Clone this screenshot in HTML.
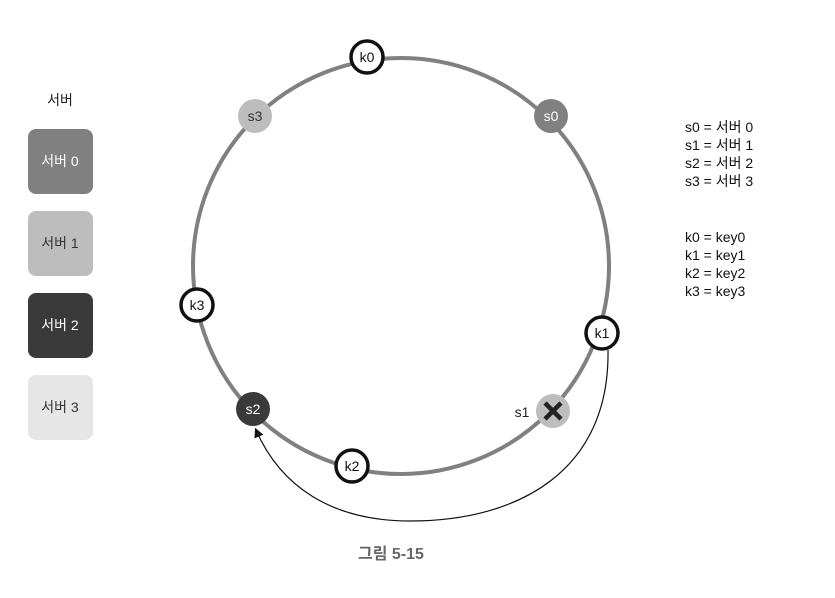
<!DOCTYPE html>
<html><head><meta charset="utf-8"><style>
body{margin:0;background:#fff;}
svg{display:block;font-family:"Liberation Sans","Noto Sans CJK KR",sans-serif;}
</style></head><body>
<svg width="835" height="598" viewBox="0 0 835 598">
<defs><marker id="ah" markerWidth="10" markerHeight="10" refX="6" refY="5" orient="auto"><path d="M0,1 L8,5 L0,9 z" fill="#111"/></marker></defs>
<text x="60" y="105" font-size="14" text-anchor="middle" fill="#222">서버</text>
<g>
<rect x="28" y="129" width="65" height="65" rx="8" fill="#808080"/>
<text x="60" y="166" font-size="14" text-anchor="middle" fill="#fff">서버 0</text>
<rect x="28" y="211" width="65" height="65" rx="8" fill="#bdbdbd"/>
<text x="60" y="248" font-size="14" text-anchor="middle" fill="#333">서버 1</text>
<rect x="28" y="293" width="65" height="65" rx="8" fill="#3a3a3a"/>
<text x="60" y="330" font-size="14" text-anchor="middle" fill="#fff">서버 2</text>
<rect x="28" y="375" width="65" height="65" rx="8" fill="#e6e6e6"/>
<text x="60" y="412" font-size="14" text-anchor="middle" fill="#333">서버 3</text>
</g>
<circle cx="401" cy="266" r="208" fill="none" stroke="#808080" stroke-width="4"/>
<path d="M608,350 C610,470 520,521 410,521 C330,521 280,485 256,430" fill="none" stroke="#111" stroke-width="1.2" marker-end="url(#ah)"/>
<g font-size="14" text-anchor="middle">
<circle cx="551" cy="116" r="17" fill="#808080"/><text x="551" y="121" fill="#fff">s0</text>
<circle cx="255" cy="116" r="17" fill="#bdbdbd"/><text x="255" y="121" fill="#333">s3</text>
<circle cx="253" cy="409" r="17" fill="#3a3a3a"/><text x="253" y="414" fill="#fff">s2</text>
<circle cx="553" cy="411" r="17" fill="#bdbdbd"/>
<path d="M545,403 L561,419 M561,403 L545,419" stroke="#222" stroke-width="4.5"/>
<text x="522" y="417" fill="#222">s1</text>
<g fill="#fff" stroke="#111" stroke-width="3.5">
<circle cx="367" cy="57" r="16"/>
<circle cx="197" cy="305" r="16"/>
<circle cx="602" cy="333" r="16"/>
<circle cx="352" cy="466" r="16"/>
</g>
<text x="367" y="62" fill="#111">k0</text>
<text x="197" y="310" fill="#111">k3</text>
<text x="602" y="338" fill="#111">k1</text>
<text x="352" y="471" fill="#111">k2</text>
</g>
<g font-size="14" fill="#111">
<text x="685" y="132">s0 = 서버 0</text>
<text x="685" y="150">s1 = 서버 1</text>
<text x="685" y="168">s2 = 서버 2</text>
<text x="685" y="186">s3 = 서버 3</text>
<text x="685" y="242">k0 = key0</text>
<text x="685" y="260">k1 = key1</text>
<text x="685" y="278">k2 = key2</text>
<text x="685" y="296">k3 = key3</text>
</g>
<text x="391" y="559" font-size="16" font-weight="bold" fill="#666" text-anchor="middle">그림 5-15</text>
</svg>
</body></html>
